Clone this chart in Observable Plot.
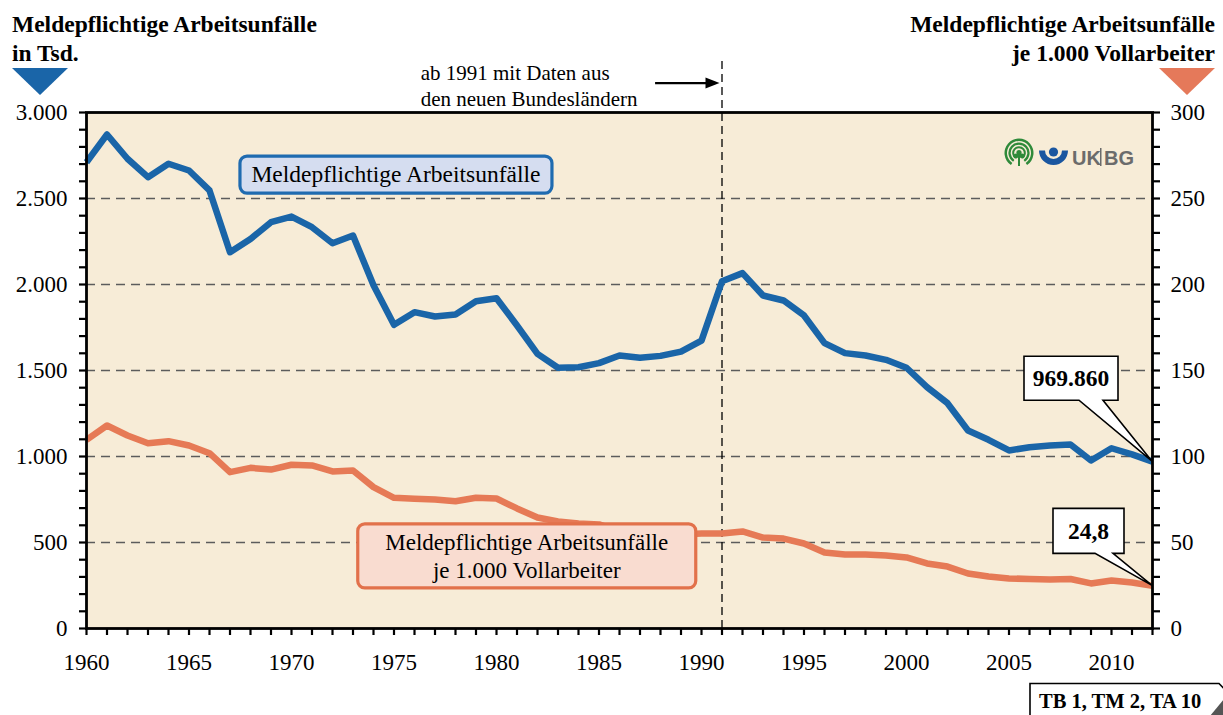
<!DOCTYPE html>
<html><head><meta charset="utf-8">
<script src="https://cdn.jsdelivr.net/npm/d3@7"></script>
<script src="https://cdn.jsdelivr.net/npm/@observablehq/plot@0.6"></script>
<style>
html,body{margin:0;padding:0;background:#fff;}
#chart{position:relative;width:1223px;height:715px;overflow:hidden;}
svg{display:block;}
</style></head><body><div id="chart"></div>
<script>
// ---- data ----
const years = [1960,1961,1962,1963,1964,1965,1966,1967,1968,1969,
  1970,1971,1972,1973,1974,1975,1976,1977,1978,1979,
  1980,1981,1982,1983,1984,1985,1986,1987,1988,1989,
  1990,1991,1992,1993,1994,1995,1996,1997,1998,1999,
  2000,2001,2002,2003,2004,2005,2006,2007,2008,2009,
  2010,2011,2012];
// Meldepflichtige Arbeitsunfälle in Tsd.
const unfaelle = [2711,2872,2731,2624,2702,2663,2547,2188,2265,2362,
  2395,2333,2240,2285,1995,1766,1839,1814,1826,1903,
  1920,1762,1597,1516,1519,1543,1587,1574,1585,1610,
  1674,2019,2066,1936,1907,1820,1659,1601,1587,1562,
  1516,1403,1310,1151,1097,1035,1054,1064,1070,977,
  1048,1012,969.86];
// Meldepflichtige Arbeitsunfälle je 1.000 Vollarbeiter
const quote = [109.7,118.0,112.2,107.7,108.9,106.4,101.9,90.9,93.4,92.4,
  95.2,94.8,91.3,91.9,82.2,76.0,75.4,75.0,74.0,76.0,
  75.6,69.8,64.5,62.2,61.0,60.5,56.4,55.8,55.2,54.7,
  55.2,55.2,56.4,52.9,52.3,49.4,44.2,43.0,43.0,42.4,
  41.3,37.8,36.0,32.0,30.2,29.1,28.8,28.5,28.8,26.2,
  27.9,26.7,24.8];
const xLabelYears = [1960,1965,1970,1975,1980,1985,1990,1995,2000,2005,2010];
const leftTicks = [0,500,1000,1500,2000,2500,3000];
const rightTicks = [0,50,100,150,200,250,300];
const gridValues = [500,1000,1500,2000,2500];
const minorLeft = [0,100,200,300,400,500,600,700,800,900,1000,1100,1200,1300,1400,1500,1600,1700,1800,1900,2000,2100,2200,2300,2400,2500,2600,2700,2800,2900,3000];
const markYear = 1991;
const titleLeft = ["Meldepflichtige Arbeitsunfälle","in Tsd."];
const titleRight = ["Meldepflichtige Arbeitsunfälle","je 1.000 Vollarbeiter"];
const annotText = "ab 1991 mit Daten aus\nden neuen Bundesländern";
const labelBlue = "Meldepflichtige Arbeitsunfälle";
const labelOrange = ["Meldepflichtige Arbeitsunfälle","je 1.000 Vollarbeiter"];
const calloutBlue = "969.860";
const calloutOrange = "24,8";
const refText = "TB 1, TM 2, TA 10";

const BLUE = "#1a65a8", ORANGE = "#e67a56";
const SERIF = "'Liberation Serif','Times New Roman',serif";
const fmtDE = d3.formatLocale({decimal:",", thousands:".", grouping:[3], currency:["","€"]}).format(",");

const data = years.map((y,i)=>({year:y, abs:unfaelle[i], rate:quote[i]}));
const rightFactor = 10; // 300 (right) <-> 3000 (left)

const plot = Plot.plot({
  width:1223, height:715,
  marginTop:112, marginBottom:87, marginLeft:86, marginRight:71,
  style:{fontFamily:SERIF, fontSize:"23px", color:"#000", background:"transparent", overflow:"visible"},
  x:{domain:[1960,2012], axis:null, label:null},
  y:{domain:[0,3000], axis:null, label:null},
  marks:[
    Plot.frame({fill:"#f7ecd7", stroke:null}),
    Plot.ruleY(gridValues, {stroke:"#5c5c5c", strokeWidth:1.6, strokeDasharray:"9,6"}),
    Plot.ruleX([markYear], {y1:0, y2:3300, stroke:"#000", strokeWidth:1.3, strokeDasharray:"8,5"}),
    Plot.text([annotText], {x:1976.3, y:3160, text:d=>d, textAnchor:"start", lineAnchor:"middle", lineHeight:1.2, fontSize:21, fill:"#000"}),
    Plot.line(data, {x:"year", y:d=>d.rate*rightFactor, stroke:ORANGE, strokeWidth:6.5, strokeLinecap:"butt"}),
    Plot.line(data, {x:"year", y:"abs", stroke:BLUE, strokeWidth:6.5, strokeLinecap:"butt"}),
    Plot.axisX({ticks:years, tickSize:7, tickFormat:()=>"", strokeWidth:2.2, label:null}),
    Plot.axisX({ticks:xLabelYears, tickSize:0, tickPadding:25, tickFormat:d=>String(d), fontSize:23, label:null}),
    Plot.axisY({anchor:"left", ticks:minorLeft, tickSize:7, tickFormat:()=>"", strokeWidth:2.2, label:null}),
    Plot.axisY({anchor:"left", ticks:leftTicks, tickSize:0, tickPadding:19, tickFormat:fmtDE, fontSize:23, label:null}),
    Plot.axisY({anchor:"right", ticks:minorLeft, tickSize:7, tickFormat:()=>"", strokeWidth:2.2, label:null}),
    Plot.axisY({anchor:"right", ticks:rightTicks.map(v=>v*rightFactor), tickSize:0, tickPadding:18, tickFormat:d=>fmtDE(d/rightFactor), fontSize:23, label:null}),
    Plot.frame({stroke:"#000", strokeWidth:2.8})
  ]
});
document.getElementById("chart").appendChild(plot);

// ---- decorations / annotations ----
const sx = plot.scale("x"), sy = plot.scale("y");
const svg = d3.select(plot);
const g = svg.append("g").attr("font-family", SERIF).attr("text-anchor","start").attr("fill","#000");

// titles
const tl = g.append("text").attr("text-anchor","start").attr("font-weight","bold").attr("font-size",23.5);
tl.append("tspan").attr("x",12).attr("y",32).text(titleLeft[0]);
tl.append("tspan").attr("x",12).attr("y",61).text(titleLeft[1]);
const tr = g.append("text").attr("font-weight","bold").attr("font-size",23.5).attr("text-anchor","end");
tr.append("tspan").attr("x",1215).attr("y",32).text(titleRight[0]);
tr.append("tspan").attr("x",1215).attr("y",61).text(titleRight[1]);

// triangles
g.append("path").attr("d","M12,68 L68,68 L40,95 Z").attr("fill",BLUE);
g.append("path").attr("d","M1159,68 L1215,68 L1187,95 Z").attr("fill","#e5795a");

// arrow pointing to 1991 line
const ax1 = sx.apply(1987.76), ax2 = sx.apply(markYear) - 2, ay = sy.apply(3168);
g.append("line").attr("x1",ax1).attr("x2",ax2-8).attr("y1",ay).attr("y2",ay).attr("stroke","#000").attr("stroke-width",2.2);
g.append("path").attr("d",`M${ax2},${ay} L${ax2-14},${ay-5.5} L${ax2-14},${ay+5.5} Z`).attr("fill","#000");

// series labels
function labelBox(cx, cy, w, h, fill, stroke, lines, fs, lh){
  g.append("rect").attr("x",cx-w/2).attr("y",cy-h/2).attr("width",w).attr("height",h)
    .attr("rx",7).attr("fill",fill).attr("stroke",stroke).attr("stroke-width",3.2);
  const t = g.append("text").attr("text-anchor","middle").attr("font-size",fs);
  const n = lines.length;
  lines.forEach((s,i)=>{
    t.append("tspan").attr("x",cx).attr("y",cy + (i-(n-1)/2)*lh + fs*0.33).text(s);
  });
}
labelBox(sx.apply(1975.12), sy.apply(2636), 312, 37, "#d5ddf0", "#1f6bb0", [labelBlue], 23.5, 28);
labelBox(sx.apply(1981.5), sy.apply(419), 338, 64, "#f9dcd0", "#e2714b", labelOrange, 23, 28);

// callouts
function callout(year, val, box, text){
  const px = sx.apply(year), py = sy.apply(val);
  const [l,t,r,b,p1,p2] = [px+box[0], py+box[1], px+box[2], py+box[3], px+box[4], px+box[5]];
  g.append("path").attr("d",`M${l},${t} H${r} V${b} H${p2} L${px},${py} L${p1},${b} H${l} Z`)
    .attr("fill","#fff").attr("stroke","#000").attr("stroke-width",1.6).attr("stroke-linejoin","miter");
  g.append("text").attr("x",(l+r)/2).attr("y",(t+b)/2+8).attr("text-anchor","middle")
    .attr("font-weight","bold").attr("font-size",23.5).text(text);
}
callout(2012, unfaelle[unfaelle.length-1], [-128,-105,-34,-61,-73,-49], calloutBlue);
callout(2012, quote[quote.length-1]*rightFactor, [-99,-77,-28,-32,-57,-39], calloutOrange);

// reference box
g.append("path").attr("d","M1209,716 L1224,698 L1224,716 Z").attr("fill","#555").attr("stroke","none");
g.append("path").attr("d","M1030,718 L1030,683.5 L1219,683.5 L1232,697 L1214,718 Z")
  .attr("fill","#fff").attr("stroke","#000").attr("stroke-width",1.6);
g.append("path").attr("d","M1210,716 L1224,699 L1224,716 Z").attr("fill","#555").attr("stroke","none");
g.append("text").attr("x",1039).attr("y",708).attr("text-anchor","start").attr("font-weight","bold").attr("font-size",20.5).text(refText);

// logo
const lg = g.append("g");
const arc = d3.arc();
[[12,14.5],[8.3,10.6],[4.8,6.8]].forEach(([ri,ro])=>{
  lg.append("path").attr("transform","translate(1019,153)")
    .attr("d", arc({innerRadius:ri, outerRadius:ro, startAngle:-2.55, endAngle:2.55}))
    .attr("fill","#2f8a3a");
});
lg.append("rect").attr("x",1018).attr("y",154).attr("width",2).attr("height",12).attr("fill","#2f8a3a");
lg.append("circle").attr("cx",1019).attr("cy",152.5).attr("r",2.6).attr("fill","#2f8a3a");
lg.append("circle").attr("cx",1016).attr("cy",156).attr("r",2.4).attr("fill","#2f8a3a");
lg.append("circle").attr("cx",1022).attr("cy",156).attr("r",2.4).attr("fill","#2f8a3a");
lg.append("path").attr("transform","translate(1053.5,150.5)")
  .attr("d", arc({innerRadius:8.5, outerRadius:14.5, startAngle:Math.PI/2, endAngle:Math.PI*1.5}))
  .attr("fill","#1a56a0");
lg.append("circle").attr("cx",1053.5).attr("cy",152).attr("r",4.6).attr("fill","#1a56a0");
lg.append("text").attr("x",1072).attr("y",165).attr("text-anchor","start").attr("font-family","'Liberation Sans',Arial,sans-serif")
  .attr("font-weight","bold").attr("font-size",20).attr("fill","#6b6b6b").text("UK");
lg.append("rect").attr("x",1100).attr("y",148).attr("width",1.5).attr("height",18).attr("fill","#6b6b6b");
lg.append("text").attr("x",1104).attr("y",165).attr("text-anchor","start").attr("font-family","'Liberation Sans',Arial,sans-serif")
  .attr("font-weight","bold").attr("font-size",20).attr("fill","#6b6b6b").text("BG");
</script>
</body></html>
